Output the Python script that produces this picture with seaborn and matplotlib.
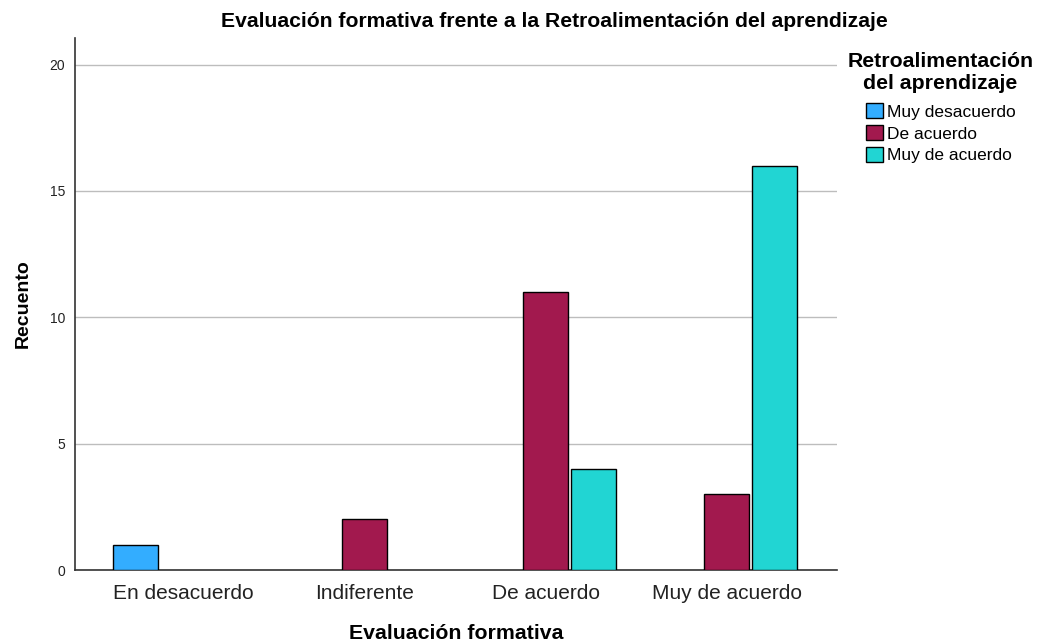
import numpy as np
import pandas as pd
import matplotlib
matplotlib.use("Agg")
import matplotlib.pyplot as plt
import seaborn as sns

sns.set_theme(style="white")
plt.rcParams['font.family'] = ['Liberation Sans', 'DejaVu Sans']
plt.rcParams['text.color'] = 'black'

# data
categories = ["En desacuerdo", "Indiferente", "De acuerdo", "Muy de acuerdo"]
hue_levels = ["Muy desacuerdo", "De acuerdo", "Muy de acuerdo"]
muy_desacuerdo = [1, 0, 0, 0]
de_acuerdo = [0, 2, 11, 3]
muy_de_acuerdo = [0, 0, 4, 16]
colors = ["#33adff", "#a2194e", "#21d5d3"]

df = pd.DataFrame({
    "Evaluación formativa": categories * 3,
    "Retro": [hue_levels[0]] * 4 + [hue_levels[1]] * 4 + [hue_levels[2]] * 4,
    "Recuento": muy_desacuerdo + de_acuerdo + muy_de_acuerdo,
})
# empty cells are not drawn
df["Recuento"] = df["Recuento"].replace(0, np.nan)

fig = plt.figure(figsize=(10.37, 6.42), dpi=100)
ax = fig.add_axes([75 / 1037, 1 - 570 / 642, (837 - 75) / 1037, (570 - 38) / 642])

sns.barplot(data=df, x="Evaluación formativa", y="Recuento", hue="Retro",
            order=categories, hue_order=hue_levels, palette=colors,
            saturation=1, width=0.8, gap=0.07, edgecolor="black", linewidth=1,
            errorbar=None, ax=ax, zorder=3)

ax.set_ylim(0, 21.05)
ax.set_xlim(-0.6, 3.61)
ax.set_yticks([0, 5, 10, 15, 20])
ax.yaxis.grid(True, color="#bdbdbd", linewidth=1, zorder=0)
ax.set_axisbelow(True)
for s in ["top", "right"]:
    ax.spines[s].set_visible(False)
for s in ["left", "bottom"]:
    ax.spines[s].set_color("#333333")
    ax.spines[s].set_linewidth(1.2)
ax.tick_params(axis="x", labelsize=15, colors="#222222", length=0, pad=10)
ax.tick_params(axis="y", labelsize=10, colors="#222222", length=0, pad=7)

ax.set_title("Evaluación formativa frente a la Retroalimentación del aprendizaje",
             fontsize=15.2, fontweight="bold", pad=8, x=0.629, color="black")
ax.set_xlabel("Evaluación formativa", fontsize=15.3, fontweight="bold", labelpad=15,
              color="black")
ax.set_ylabel("Recuento", fontsize=14, fontweight="bold", labelpad=13, color="black")

leg = ax.legend(title="Retroalimentación\ndel aprendizaje", loc="upper left",
                bbox_to_anchor=(1.0, 0.993), frameon=False, fontsize=12.5,
                title_fontproperties={"weight": "bold", "size": 15.3},
                handlelength=1.0, handleheight=1.0, handletextpad=0.2,
                labelspacing=0.3, borderaxespad=0.2)
leg.get_title().set_multialignment("center")
leg._legend_box.sep = 7

fig.savefig("out.png", dpi=100)
